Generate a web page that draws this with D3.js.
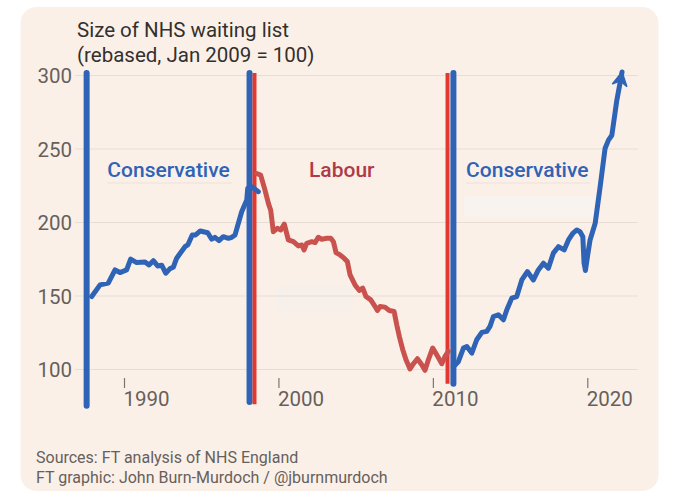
<!DOCTYPE html>
<html>
<head>
<meta charset="utf-8">
<script src="https://cdn.jsdelivr.net/npm/d3@7"></script>
<style>
  body { margin: 0; background: #ffffff; }
  svg { display: block; font-family: Roboto, "Open Sans", sans-serif; }
</style>
</head>
<body>
<svg id="chart" width="680" height="497"></svg>
<script>
// NHS waiting list, rebased Jan 2009 = 100

const titleLines = ['Size of NHS waiting list', '(rebased, Jan 2009 = 100)'];
const sourceLines = ['Sources: FT analysis of NHS England',
                     'FT graphic: John Burn-Murdoch / @jburnmurdoch'];
const yTicks = [100, 150, 200, 250, 300];
const xTicks = [1990, 2000, 2010, 2020];

// Conservative 1987–1997 (date, index)
const con1Dates = [1987.91, 1988.45, 1988.98, 1989.42, 1989.74, 1990.17, 1990.43, 1990.82,
  1991.36, 1991.62, 1991.90, 1992.18, 1992.44, 1992.70, 1992.98, 1993.19, 1993.41,
  1993.95, 1994.13, 1994.42, 1994.64, 1994.94, 1995.42, 1995.68, 1995.89, 1996.15,
  1996.43, 1996.76, 1996.98, 1997.19, 1997.62, 1997.95, 1998.01, 1998.27, 1998.70];
const con1Values = [149.3, 157.2, 158.4, 167.4, 165.6, 167.4, 174.7, 172.4,
  172.8, 170.8, 173.7, 170.1, 170.6, 165.2, 168.3, 169.2, 175.4,
  183.2, 184.4, 191.2, 191.2, 193.9, 192.7, 188.3, 189.6, 187.3,
  190.0, 188.9, 189.6, 191.2, 207.0, 215.0, 222.9, 224.0, 220.6];

// Labour 1997–2010
const labDates = [1998.59, 1998.85, 1999.13, 1999.35, 1999.50, 1999.67, 1999.93, 2000.15,
  2000.38, 2000.64, 2000.97, 2001.29, 2001.51, 2001.66, 2001.83, 2002.16, 2002.37,
  2002.58, 2002.80, 2003.13, 2003.39, 2003.56, 2003.73, 2003.99, 2004.25, 2004.46,
  2004.64, 2004.96, 2005.24, 2005.46, 2005.67, 2005.98, 2006.26, 2006.41, 2006.58,
  2006.90, 2007.18, 2007.49, 2007.66, 2007.83, 2008.05, 2008.26, 2008.52, 2008.74,
  2009.00, 2009.28, 2009.49, 2009.71, 2009.99, 2010.25, 2010.58, 2010.79, 2011.00];
const labValues = [233.0, 231.9, 221.7, 212.7, 208.0, 193.4, 195.7, 194.6,
  198.6, 187.8, 186.6, 183.7, 184.4, 181.0, 185.5, 186.6, 186.0,
  189.6, 188.3, 188.9, 188.9, 186.6, 179.2, 177.6, 175.4, 173.1,
  164.0, 157.2, 153.4, 155.0, 149.3, 147.0, 142.5, 139.8, 142.5,
  142.1, 139.8, 139.1, 130.1, 122.1, 113.1, 106.3, 100.0, 103.6,
  107.0, 102.9, 99.1, 106.3, 114.3, 109.7, 103.6, 108.6, 112.0];

// Conservative 2010–
const con2Dates = [2011.33, 2011.65, 2011.98, 2012.20, 2012.52, 2012.84, 2013.17, 2013.49,
  2013.70, 2013.92, 2014.24, 2014.57, 2014.79, 2015.11, 2015.43, 2015.76, 2016.12,
  2016.51, 2016.83, 2017.16, 2017.48, 2017.80, 2018.13, 2018.50, 2018.78, 2019.06,
  2019.32, 2019.53, 2019.71, 2019.79, 2019.88, 2020.01, 2020.18, 2020.51, 2020.83,
  2021.15, 2021.37, 2021.59, 2021.91, 2022.25];
const con2Values = [101.6, 105.0, 114.2, 115.3, 110.8, 119.9, 124.9, 125.6,
  129.0, 135.7, 136.9, 133.5, 140.3, 148.2, 149.3, 160.6, 166.3,
  160.6, 167.4, 172.0, 168.6, 178.8, 183.2, 181.0, 187.8, 192.3,
  194.6, 193.4, 190.0, 172.0, 167.0, 176.5, 187.8, 199.1, 223.9,
  250.0, 255.7, 259.0, 282.7, 302.0];

// changes of government: date, party, lowest index reached by the bar
const changeDates = [1987.58, 1998.13, 1998.45, 2010.95, 2011.33];
const changeParty = ['con', 'con', 'lab', 'lab', 'con'];
const changeBottom = [75, 77.5, 76, 90, 90];

// party labels: text, date of left edge
const partyNames = ['Conservative', 'Labour', 'Conservative'];
const partyKeys = ['con', 'lab', 'con'];
const partyDates = [1988.92, 2001.98, 2012.15];

const BG = '#fbf0e8';
const BLUE = '#2e63b6';
const RED_BAR = '#e2382d';
const RED_LINE = '#c9524e';
const LAB_TEXT = '#b03a47';
const GRID = '#e8ddd5';
const INK = '#33302e';
const GREY = '#66605c';

const svg = d3.select('#chart');

// card
svg.append('rect')
  .attr('x', 20.5).attr('y', 7).attr('width', 638).attr('height', 484)
  .attr('rx', 16).attr('fill', BG);

const x = d3.scaleLinear().domain([1990, 2020]).range([124, 587.3]);
const y = d3.scaleLinear().domain([100, 300]).range([369, 75]);

// faint editing leftovers in the original
const ghosts = svg.append('g').attr('class', 'ghosts');
ghosts.append('rect').attr('x', 276).attr('y', 285).attr('width', 77).attr('height', 27)
  .attr('rx', 3).attr('fill', '#f6efea');
ghosts.append('rect').attr('x', 464).attr('y', 196).attr('width', 131).attr('height', 21)
  .attr('rx', 4).attr('fill', '#f8f3ef');

// gridlines + y labels
const yAxis = svg.append('g').attr('transform', 'translate(75,0)')
  .call(d3.axisLeft(y).tickValues(yTicks).tickSize(-563).tickPadding(3));
yAxis.select('.domain').remove();
yAxis.selectAll('line').attr('stroke', GRID).attr('stroke-width', 1.2);
yAxis.selectAll('text')
  .attr('fill', GREY).attr('font-size', 20.5).attr('dy', '0.37em')
  .attr('font-family', 'Roboto, sans-serif');

// x ticks, labels hang right of the tick
const xAxis = svg.append('g').attr('transform', 'translate(0,378)')
  .call(d3.axisBottom(x).tickValues(xTicks).tickFormat(d3.format('d'))
    .tickSizeInner(10).tickSizeOuter(0));
xAxis.select('.domain').remove();
xAxis.selectAll('line').attr('stroke', '#7d7570').attr('stroke-width', 1.2);
xAxis.selectAll('text')
  .attr('fill', GREY).attr('font-size', 20.5)
  .attr('text-anchor', 'start').attr('x', -1).attr('y', 28).attr('dy', 0)
  .attr('font-family', 'Roboto, sans-serif');

// government change bars
const changes = changeDates.map((d, i) => ({ date: d, party: changeParty[i], bottom: changeBottom[i] }));
svg.append('g').attr('class', 'changes')
  .selectAll('line').data(changes).join('line')
  .attr('x1', d => x(d.date)).attr('x2', d => x(d.date))
  .attr('y1', d => y(300) - 2).attr('y2', d => y(d.bottom))
  .attr('stroke', d => d.party === 'con' ? BLUE : RED_BAR)
  .attr('stroke-width', d => d.party === 'con' ? 6 : 4)
  .attr('stroke-linecap', d => d.party === 'con' ? 'round' : 'butt');

// series
const line = d3.line().x(d => x(d[0])).y(d => y(d[1]));
const series = [
  { pts: d3.zip(con1Dates, con1Values), color: BLUE },
  { pts: d3.zip(labDates, labValues), color: RED_LINE },
  { pts: d3.zip(con2Dates, con2Values), color: BLUE },
];
svg.append('g').attr('class', 'series')
  .selectAll('path').data(series).join('path')
  .attr('d', d => line(d.pts))
  .attr('fill', 'none')
  .attr('stroke', d => d.color)
  .attr('stroke-width', 5)
  .attr('stroke-linejoin', 'round')
  .attr('stroke-linecap', 'round');

// arrow head on the latest point
const n = con2Dates.length;
const tip = [x(con2Dates[n - 1]), y(con2Values[n - 1])];
const prev = [x(con2Dates[n - 2]), y(con2Values[n - 2])];
const ang = Math.atan2(tip[1] - prev[1], tip[0] - prev[0]);
const L = 15, W = 0.5;
const wing = s => [tip[0] - L * Math.cos(ang + s * W), tip[1] - L * Math.sin(ang + s * W)];
const notch = [tip[0] - 9 * Math.cos(ang), tip[1] - 9 * Math.sin(ang)];
svg.append('path')
  .attr('d', `M${tip}L${wing(1)}L${notch}L${wing(-1)}Z`)
  .attr('fill', BLUE).attr('stroke', BLUE).attr('stroke-width', 1.5)
  .attr('stroke-linejoin', 'round');

// party labels
const labelG = svg.append('g').attr('class', 'party');
partyNames.forEach((name, i) => {
  const t = labelG.append('text')
    .attr('x', x(partyDates[i])).attr('y', 177)
    .attr('font-size', 21).attr('font-weight', 500)
    .attr('fill', partyKeys[i] === 'con' ? BLUE : LAB_TEXT)
    .text(name);
  if (partyKeys[i] === 'con') {
    const w = t.node().getComputedTextLength();
    labelG.append('line')
      .attr('x1', x(partyDates[i])).attr('x2', x(partyDates[i]) + w + 2)
      .attr('y1', 183).attr('y2', 183)
      .attr('stroke', '#ebe1da').attr('stroke-width', 1.2);
  }
});

// title
svg.append('g').selectAll('text').data(titleLines).join('text')
  .attr('x', 77).attr('y', (d, i) => 37 + i * 25)
  .attr('font-size', 20.5).attr('fill', INK)
  .text(d => d);

// sources
svg.append('g').selectAll('text').data(sourceLines).join('text')
  .attr('x', 36).attr('y', (d, i) => 463 + i * 20)
  .attr('font-size', 16).attr('fill', GREY)
  .text(d => d);
</script>
</body>
</html>
